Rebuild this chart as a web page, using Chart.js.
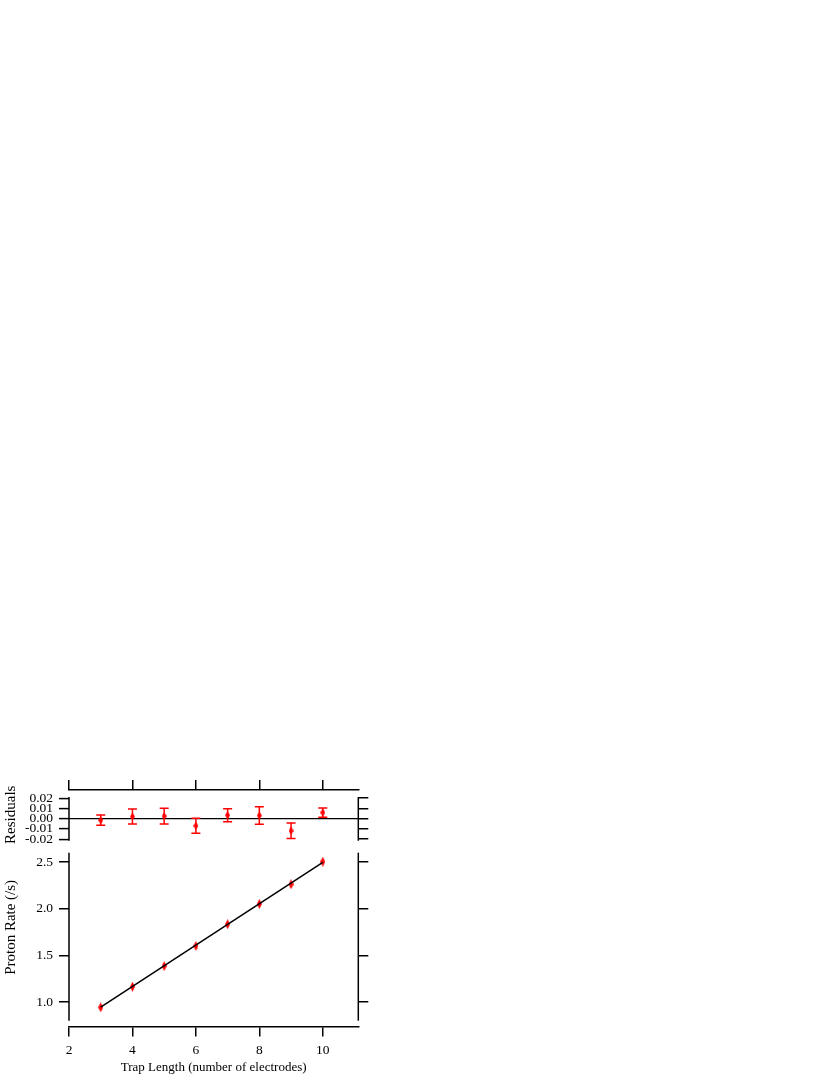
<!DOCTYPE html>
<html><head><meta charset="utf-8">
<script src="https://cdn.jsdelivr.net/npm/chart.js@4/dist/chart.umd.min.js"></script>
<style>html,body{margin:0;padding:0;background:#fff;overflow:hidden}#wrap{position:absolute;left:0;top:0;width:830px;height:1075px}</style>
</head><body><div id="wrap"><canvas id="c"></canvas></div>
<script>
// ---- data ----
const trapLength = [3, 4, 5, 6, 7, 8, 9, 10];
const protonRate = [0.943, 1.164, 1.385, 1.600, 1.833, 2.050, 2.261, 2.503];
const residuals = [-0.0015, 0.0021, 0.0025, -0.0069, 0.0034, 0.0031, -0.0117, 0.0060];
const residualErr = [0.0050, 0.0073, 0.0077, 0.0073, 0.0063, 0.0086, 0.0075, 0.0045];
const fitX = [3, 10];
const fitY = [0.944, 2.497];
const xTicks = [2, 4, 6, 8, 10];
const rateTicks = [1.0, 1.5, 2.0, 2.5];
const residTicks = [-0.02, -0.01, 0, 0.01, 0.02];

// ---- axis ranges ----
const X_RANGE = [2, 11.12];
const RATE_RANGE = [0.7375, 2.6607];
const RATE_SPINE = [0.8, 2.6];
const RES_RANGE = [-0.02761, 0.0280];
const RES_SPINE = [-0.0215, 0.0212];

const RED = '#ff0000';
const FONT = "'Liberation Serif', 'Times New Roman', serif";
Chart.defaults.font.family = FONT;
Chart.defaults.font.size = 13.5;
Chart.defaults.color = '#000';

function diamond(w, h, color) {
  const c = document.createElement('canvas');
  c.width = w; c.height = h;
  const g = c.getContext('2d');
  g.fillStyle = color;
  g.beginPath();
  g.moveTo(w / 2, 0); g.lineTo(w, h / 2); g.lineTo(w / 2, h); g.lineTo(0, h / 2);
  g.closePath(); g.fill();
  return c;
}
const mainMarker = diamond(5, 10, RED);
const resMarker = diamond(5, 8, RED);

const setTicks = (arr) => (scale) => { scale.ticks = arr.map(v => ({value: v})); };
const fixW = (w) => (scale) => { scale.width = w; };
const fixH = (h) => (scale) => { scale.height = h; };

const spinePlugin = {
  id: 'spines',
  afterDatasetsDraw(chart) {
    const ctx = chart.ctx, a = chart.chartArea;
    const s = chart.scales;
    ctx.save();
    ctx.strokeStyle = '#000';
    ctx.lineWidth = 1.5;
    const seg = (scale, span) => {
      const y1 = scale.getPixelForValue(span[0]);
      const y2 = scale.getPixelForValue(span[1]);
      [a.left, a.right].forEach(x => {
        ctx.beginPath(); ctx.moveTo(x, y1); ctx.lineTo(x, y2); ctx.stroke();
      });
    };
    seg(s.yMain, RATE_SPINE);
    seg(s.yRes, RES_SPINE);
    ctx.restore();
  }
};

const errorBarPlugin = {
  id: 'errbars',
  beforeDatasetsDraw(chart) {
    const ctx = chart.ctx, xs = chart.scales.x, ys = chart.scales.yRes;
    ctx.save();
    ctx.strokeStyle = RED;
    ctx.lineWidth = 1.5;
    trapLength.forEach((xv, i) => {
      const x = xs.getPixelForValue(xv);
      const y1 = ys.getPixelForValue(residuals[i] + residualErr[i]);
      const y2 = ys.getPixelForValue(residuals[i] - residualErr[i]);
      ctx.beginPath();
      ctx.moveTo(x, y1); ctx.lineTo(x, y2);
      ctx.moveTo(x - 4.5, y1); ctx.lineTo(x + 4.5, y1);
      ctx.moveTo(x - 4.5, y2); ctx.lineTo(x + 4.5, y2);
      ctx.stroke();
    });
    ctx.restore();
  }
};

new Chart(document.getElementById('c'), {
  type: 'scatter',
  data: {
    datasets: [
      {
        type: 'line', label: 'fit',
        data: fitX.map((x, i) => ({x, y: fitY[i]})),
        xAxisID: 'x', yAxisID: 'yMain',
        borderColor: '#000', borderWidth: 1.5, pointRadius: 0, fill: false
      },
      {
        label: 'Proton Rate',
        data: trapLength.map((x, i) => ({x, y: protonRate[i]})),
        xAxisID: 'x', yAxisID: 'yMain',
        pointStyle: mainMarker, pointRadius: 5, backgroundColor: RED, borderColor: RED
      },
      {
        label: 'Residuals',
        data: trapLength.map((x, i) => ({x, y: residuals[i]})),
        xAxisID: 'x', yAxisID: 'yRes',
        pointStyle: resMarker, pointRadius: 4, backgroundColor: RED, borderColor: RED
      }
    ]
  },
  options: {
    responsive: true,
    maintainAspectRatio: false,
    animation: false,
    layout: {padding: {left: 0, top: 778, right: 459.7, bottom: 0}},
    plugins: {legend: {display: false}, tooltip: {enabled: false}},
    scales: {
      x: {
        type: 'linear', position: 'bottom', min: X_RANGE[0], max: X_RANGE[1],
        afterBuildTicks: setTicks(xTicks), afterFit: fixH(48.5),
        border: {display: true, color: '#000', width: 1.5},
        grid: {drawOnChartArea: false, tickLength: 10, color: '#000', lineWidth: 1.5},
        ticks: {padding: 6, autoSkip: false, maxRotation: 0, callback: v => String(v)},
        title: {display: true, text: 'Trap Length (number of electrodes)', font: {size: 13}, padding: {top: 0, bottom: 0}}
      },
      x2: {
        type: 'linear', position: 'top', min: X_RANGE[0], max: X_RANGE[1],
        afterBuildTicks: setTicks(xTicks), afterFit: fixH(12),
        border: {display: true, color: '#000', width: 1.5},
        grid: {drawOnChartArea: false, tickLength: 10, color: '#000', lineWidth: 1.5},
        ticks: {display: false, autoSkip: false}
      },
      yMain: {
        type: 'linear', position: 'left', stack: 'L', stackWeight: 179.5, weight: 1,
        min: RATE_RANGE[0], max: RATE_RANGE[1],
        afterBuildTicks: setTicks(rateTicks), afterFit: fixW(69),
        border: {display: false},
        grid: {drawOnChartArea: false, tickLength: 10, color: '#000', lineWidth: 1.5},
        ticks: {padding: 6, autoSkip: false, callback: v => Number(v).toFixed(1)},
        title: {display: true, text: '     Proton Rate (/s)', font: {size: 15}, padding: {top: 2, bottom: 0}}
      },
      yRes: {
        type: 'linear', position: 'left', stack: 'L', stackWeight: 57, weight: 2,
        min: RES_RANGE[0], max: RES_RANGE[1],
        afterBuildTicks: setTicks(residTicks), afterFit: fixW(69),
        border: {display: false},
        grid: {
          drawOnChartArea: true, tickLength: 10, lineWidth: 1.2, tickWidth: 1.5, tickColor: '#000',
          color: c => (c.tick && Math.abs(c.tick.value) < 1e-9) ? '#000' : 'rgba(0,0,0,0)'
        },
        ticks: {padding: 6, autoSkip: false, callback: v => Number(v).toFixed(2)},
        title: {display: true, text: '  Residuals', font: {size: 15}, padding: {top: 2, bottom: 0}}
      },
      yResR: {
        type: 'linear', position: 'right', stack: 'R', stackWeight: 57, weight: 1,
        min: RES_RANGE[0], max: RES_RANGE[1],
        afterBuildTicks: setTicks(residTicks), afterFit: fixW(12),
        border: {display: false},
        grid: {drawOnChartArea: false, tickLength: 10, color: '#000', lineWidth: 1.5},
        ticks: {display: false, autoSkip: false}
      },
      yMainR: {
        type: 'linear', position: 'right', stack: 'R', stackWeight: 179.5, weight: 2,
        min: RATE_RANGE[0], max: RATE_RANGE[1],
        afterBuildTicks: setTicks(rateTicks), afterFit: fixW(12),
        border: {display: false},
        grid: {drawOnChartArea: false, tickLength: 10, color: '#000', lineWidth: 1.5},
        ticks: {display: false, autoSkip: false}
      }
    }
  },
  plugins: [spinePlugin, errorBarPlugin]
});
</script>
</body></html>
